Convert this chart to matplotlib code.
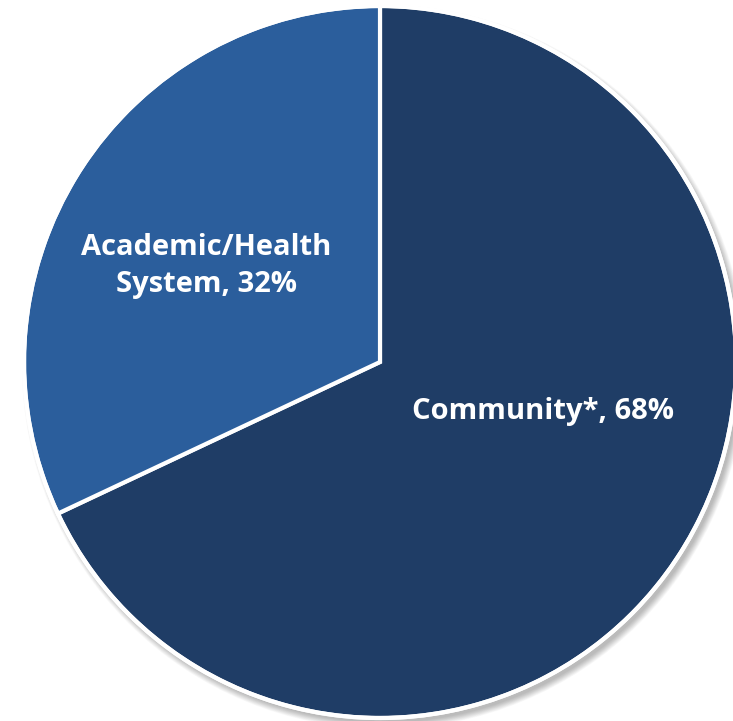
import matplotlib
matplotlib.use("Agg")
import matplotlib.pyplot as plt
from matplotlib.patches import Circle

categories = ["Community*", "Academic/Health\nSystem"]
shares = [68, 32]
colors = ["#1F3D66", "#2B5E9C"]

W, H = 733, 721
fig = plt.figure(figsize=(W / 100, H / 100), dpi=100)
ax = fig.add_axes([0, 0, 1, 1])

cx, cy, r = 380, H - 362, 356

# soft drop shadow to the lower right
for i in range(12):
    ax.add_patch(Circle((cx + 4, cy - 5), r + 6 - i * 0.6, color="black",
                        alpha=0.025, lw=0, zorder=0))

wedges, _ = ax.pie(shares, colors=colors, startangle=90, counterclock=False,
                   center=(cx, cy), radius=r, frame=True,
                   wedgeprops=dict(edgecolor="white", linewidth=3))
ax.set_xlim(0, W)
ax.set_ylim(0, H)
ax.set_aspect("equal")
ax.axis("off")
ax.add_patch(Circle((cx, cy), r, fill=False, edgecolor="white", lw=3, zorder=5))

font = dict(color="white", fontsize=21, fontweight="bold", family="Open Sans",
            ha="center", va="center")
ax.text(543, H - 412, f"{categories[0]}, {shares[0]}%", **font)
ax.text(206, H - 266, f"{categories[1]}, {shares[1]}%", linespacing=1.4, **font)

fig.savefig("out.png", dpi=100)
